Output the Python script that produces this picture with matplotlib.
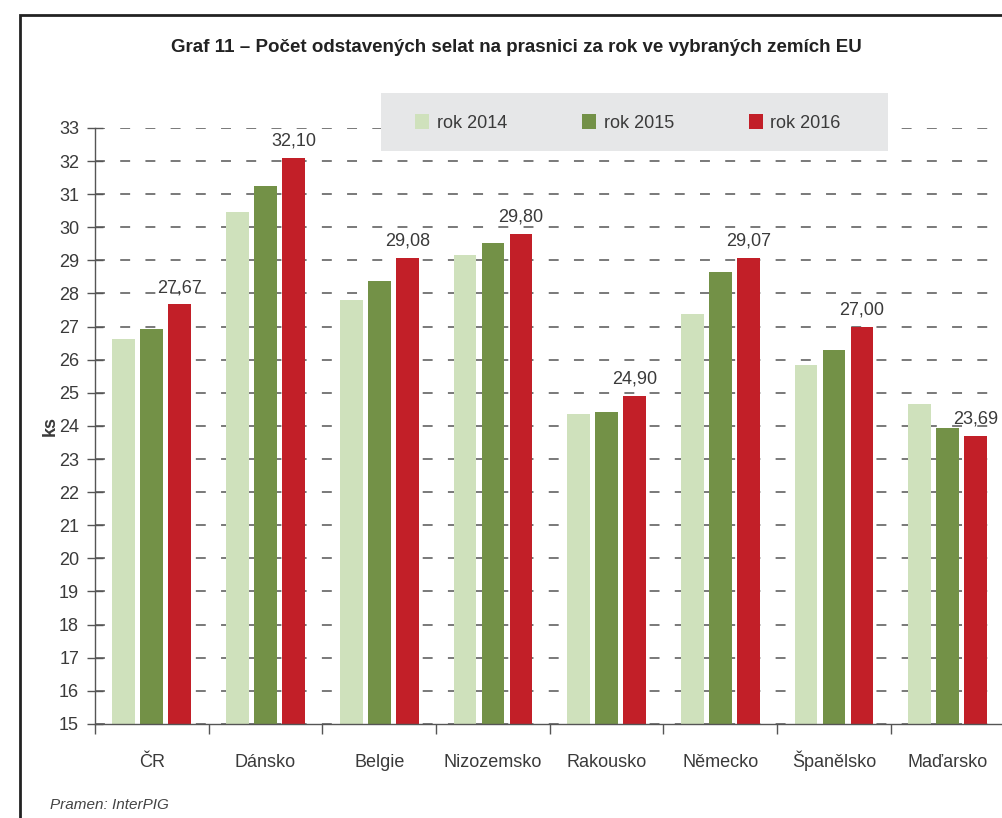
import matplotlib.pyplot as plt
from matplotlib.patches import Rectangle
import numpy as np

# data
countries = ['ČR', 'Dánsko', 'Belgie', 'Nizozemsko', 'Rakousko', 'Německo', 'Španělsko', 'Maďarsko']
rok_2014 = [26.63, 30.47, 27.80, 29.17, 24.37, 27.38, 25.84, 24.67]
rok_2015 = [26.93, 31.25, 28.38, 29.52, 24.43, 28.65, 26.30, 23.93]
rok_2016 = [27.67, 32.10, 29.08, 29.80, 24.90, 29.07, 27.00, 23.69]
series_labels = ['rok 2014', 'rok 2015', 'rok 2016']
colors = ['#cfe1bc', '#739147', '#c21f28']

plt.rcParams['font.family'] = ['Liberation Sans', 'DejaVu Sans']
txt = '#3a3a3a'

fig = plt.figure(figsize=(10.03, 8.18), dpi=100)
ax = fig.add_axes([0.0947, 0.115, 0.9053, 0.7286])

x = np.arange(len(countries))
w = 0.2
gap = 0.246
for i, vals in enumerate([rok_2014, rok_2015, rok_2016]):
    ax.bar(x + (i - 1) * gap, vals, width=w, bottom=0, color=colors[i],
           label=series_labels[i], zorder=2)

# value labels only for 2016
for xi, v in zip(x, rok_2016):
    ax.text(xi + gap, v + 0.25, f'{v:.2f}'.replace('.', ','), ha='center',
            va='bottom', fontsize=13, color=txt)

ax.set_ylim(15, 33)
ax.set_xlim(-0.5, 7.486)
ax.set_yticks(range(15, 34))
ax.yaxis.grid(True, color='#555555', linestyle=(0, (6.5, 10)), linewidth=1.1)
ax.set_axisbelow(True)

ax.set_xticks(x)
ax.set_xticklabels(countries)
ax.set_xticks(np.arange(-0.5, 7.0, 1.0), minor=True)
ax.tick_params(axis='x', which='major', length=0, pad=31, labelsize=13, labelcolor=txt)
ax.tick_params(axis='x', which='minor', length=7, width=1, color='#555555', direction='out')
ax.tick_params(axis='y', length=11, width=1, color='#555555', direction='inout',
               labelsize=13, labelcolor=txt, pad=6)
for lbl in ax.get_xticklabels():
    lbl.set_verticalalignment('baseline')

for s in ['top', 'right']:
    ax.spines[s].set_visible(False)
for s in ['left', 'bottom']:
    ax.spines[s].set_color('#555555')
    ax.spines[s].set_linewidth(1)

ax.set_ylabel('ks', fontsize=13, fontweight='bold', color=txt, labelpad=0)

# legend: grey panel with the entries laid on top
ax.add_patch(Rectangle((381 / 1003, 1 - 151 / 818), 507 / 1003, 58 / 818,
                       transform=fig.transFigure, facecolor='#e6e7e8',
                       edgecolor='none', zorder=4, clip_on=False))
leg = ax.legend(loc='center left', bbox_to_anchor=(415 / 1003, 1 - 123 / 818),
                bbox_transform=fig.transFigure, ncol=3, frameon=False,
                fontsize=13, handlelength=0.8, handleheight=0.9,
                handletextpad=0.4, columnspacing=4.15, borderpad=0,
                borderaxespad=0)
leg.set_zorder(5)
for t in leg.get_texts():
    t.set_color(txt)

fig.text(0.515, 1 - 48 / 818, 'Graf 11 – Počet odstavených selat na prasnici za rok ve vybraných zemích EU',
         ha='center', va='center', fontsize=13.5, fontweight='bold', color='#222222')
fig.text(50 / 1003, 1 - 805 / 818, 'Pramen: InterPIG', ha='left', va='center',
         fontsize=11, style='italic', color='#444444')

# outer frame of the figure box
fig.patches.append(Rectangle((20 / 1003, -0.05), 1.1, 1 - 15 / 818 + 0.05,
                             transform=fig.transFigure, fill=False,
                             edgecolor='#222222', linewidth=2))

fig.savefig('out.png', dpi=100)
